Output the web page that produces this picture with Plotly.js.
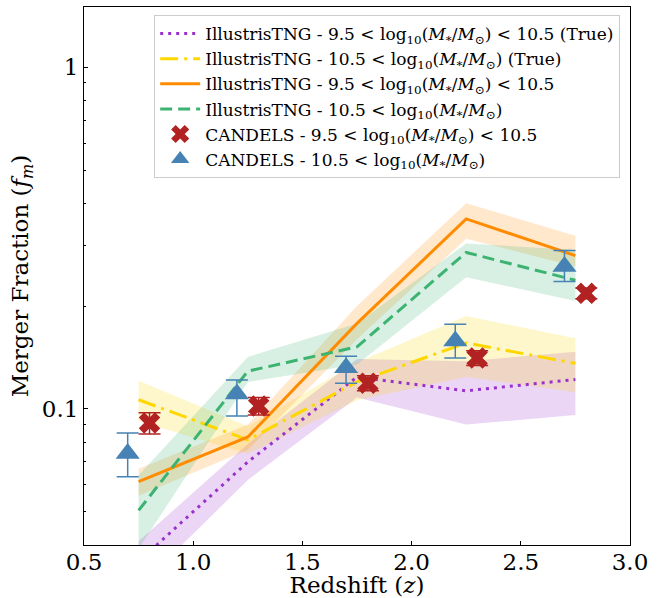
<!DOCTYPE html>
<html>
<head>
<meta charset="utf-8">
<script src="https://cdn.plot.ly/plotly-3.0.1.min.js"></script>
<style>html,body{margin:0;padding:0;background:#fff;}#chart{width:663px;height:598px;}</style>
</head>
<body>
<div id="chart"></div>
<script>
// Simulation redshift bins
const zSim = [0.75, 1.25, 1.75, 2.25, 2.75];
// IllustrisTNG 9.5 < logM < 10.5 (True)
const lowTrue = [0.0358, 0.070, 0.124, 0.113, 0.122];
const lowTrueLo = [0.030, 0.062, 0.108, 0.090, 0.096];
const lowTrueHi = [0.041, 0.079, 0.140, 0.138, 0.147];
// IllustrisTNG 10.5 < logM (True)
const highTrue = [0.1064, 0.0812, 0.120, 0.156, 0.136];
const highTrueLo = [0.092, 0.074, 0.106, 0.124, 0.112];
const highTrueHi = [0.121, 0.089, 0.137, 0.187, 0.161];
// IllustrisTNG 9.5 < logM < 10.5
const lowPred = [0.0613, 0.0828, 0.178, 0.360, 0.281];
const lowPredLo = [0.0557, 0.076, 0.160, 0.315, 0.261];
const lowPredHi = [0.0669, 0.090, 0.200, 0.400, 0.321];
// IllustrisTNG 10.5 < logM
const highPred = [0.0505, 0.129, 0.152, 0.287, 0.238];
const highPredLo = [0.039, 0.120, 0.135, 0.243, 0.207];
const highPredHi = [0.064, 0.142, 0.178, 0.305, 0.292];
// CANDELS 9.5 < logM < 10.5
const zCandLow = [0.8, 1.3, 1.8, 2.3, 2.8];
const candLow = [0.091, 0.102, 0.119, 0.141, 0.218];
const candLowErr = [0.0065, 0.006, 0.006, 0.007, 0.008];
// CANDELS 10.5 < logM
const zCandHigh = [0.7, 1.2, 1.7, 2.2, 2.7];
const candHigh = [0.0741, 0.1106, 0.132, 0.158, 0.261];
const candHighErrUp = [0.0110, 0.0109, 0.0107, 0.019, 0.030];
const candHighErrDn = [0.0108, 0.0152, 0.013, 0.017, 0.025];

const legendLabels = [
  'IllustrisTNG - 9.5 &lt; log<sub>10</sub>(<i>M</i><sub>*</sub>/<i>M</i><sub>⊙</sub>) &lt; 10.5 (True)',
  'IllustrisTNG - 10.5 &lt; log<sub>10</sub>(<i>M</i><sub>*</sub>/<i>M</i><sub>⊙</sub>) (True)',
  'IllustrisTNG - 9.5 &lt; log<sub>10</sub>(<i>M</i><sub>*</sub>/<i>M</i><sub>⊙</sub>) &lt; 10.5',
  'IllustrisTNG - 10.5 &lt; log<sub>10</sub>(<i>M</i><sub>*</sub>/<i>M</i><sub>⊙</sub>)',
  'CANDELS - 9.5 &lt; log<sub>10</sub>(<i>M</i><sub>*</sub>/<i>M</i><sub>⊙</sub>) &lt; 10.5',
  'CANDELS - 10.5 &lt; log<sub>10</sub>(<i>M</i><sub>*</sub>/<i>M</i><sub>⊙</sub>)'
];

function band(lo, hi, color) {
  return {
    x: zSim.concat(zSim.slice().reverse()),
    y: lo.concat(hi.slice().reverse()),
    fill: 'toself', fillcolor: color, mode: 'none',
    showlegend: false, hoverinfo: 'skip', type: 'scatter'
  };
}

const traces = [
  band(lowTrueLo, lowTrueHi, 'rgba(153,50,204,0.2)'),
  band(highTrueLo, highTrueHi, 'rgba(255,215,0,0.2)'),
  band(lowPredLo, lowPredHi, 'rgba(255,140,0,0.2)'),
  band(highPredLo, highPredHi, 'rgba(60,179,113,0.2)'),
  {x: zSim, y: lowTrue, mode: 'lines', name: legendLabels[0], type: 'scatter',
   line: {color: '#9932cc', width: 3, dash: '3px,5px'}},
  {x: zSim, y: highTrue, mode: 'lines', name: legendLabels[1], type: 'scatter',
   line: {color: '#ffd700', width: 3, dash: '18px,6px,3px,6px'}},
  {x: zSim, y: lowPred, mode: 'lines', name: legendLabels[2], type: 'scatter',
   line: {color: '#ff8c00', width: 3}},
  {x: zSim, y: highPred, mode: 'lines', name: legendLabels[3], type: 'scatter',
   line: {color: '#3cb371', width: 3, dash: '12px,6px'}},
  {x: zCandLow, y: candLow, mode: 'markers', name: legendLabels[4], type: 'scatter',
   marker: {symbol: 'x', size: 19, color: '#b22222', line: {width: 0}},
   error_y: {type: 'data', array: candLowErr, color: '#b22222', thickness: 1.5, width: 11}},
  {x: zCandHigh, y: candHigh, mode: 'markers', name: legendLabels[5], type: 'scatter',
   marker: {symbol: 'triangle-up', size: 21, color: '#4682b4', line: {width: 0}},
   error_y: {type: 'data', array: candHighErrUp, arrayminus: candHighErrDn, color: '#4682b4', thickness: 1.5, width: 11}}
];

const layout = {
  width: 663, height: 598,
  margin: {l: 84, r: 33, t: 7, b: 53},
  paper_bgcolor: '#fff', plot_bgcolor: '#fff',
  font: {family: 'DejaVu Serif', color: '#000'},
  showlegend: true,
  legend: {x: 0.982, xanchor: 'right', y: 0.985, yanchor: 'top',
           bgcolor: 'rgba(255,255,255,0.8)', bordercolor: '#cccccc', borderwidth: 1,
           font: {family: 'DejaVu Serif', size: 17}, tracegroupgap: 0, itemwidth: 40},
  xaxis: {
    range: [0.5, 3.0], tickvals: [0.5, 1.0, 1.5, 2.0, 2.5, 3.0],
    ticktext: ['0.5', '1.0', '1.5', '2.0', '2.5', '3.0'],
    ticks: 'inside', ticklen: 4, tickwidth: 1, tickcolor: '#000',
    ticklabelstandoff: -4,
    showline: true, linecolor: '#000', linewidth: 1, mirror: true,
    showgrid: false, zeroline: false,
    tickfont: {size: 23, family: 'DejaVu Serif'},
    title: {text: 'Redshift (<i>z</i>)', font: {size: 23, family: 'DejaVu Serif'}, standoff: 0}
  },
  yaxis: {
    type: 'log', range: [Math.log10(0.04), Math.log10(1.5)],
    tickvals: [0.1, 1], ticktext: ['0.1', '1'],
    ticks: 'inside', ticklen: 4, tickwidth: 1, tickcolor: '#000',
    minor: {tickmode: 'array', tickvals: [0.05, 0.06, 0.07, 0.08, 0.09, 0.2, 0.3, 0.4, 0.5, 0.6, 0.7, 0.8, 0.9],
            ticks: 'inside', ticklen: 2, tickcolor: '#000', showgrid: false},
    showline: true, linecolor: '#000', linewidth: 1, mirror: true,
    showgrid: false, zeroline: false,
    tickfont: {size: 23, family: 'DejaVu Serif'},
    title: {text: 'Merger Fraction (<i>f<sub>m</sub></i>)', font: {size: 23, family: 'DejaVu Serif'}, standoff: 6}
  }
};

Plotly.newPlot('chart', traces, layout, {displayModeBar: false, staticPlot: true});
</script>
</body>
</html>
